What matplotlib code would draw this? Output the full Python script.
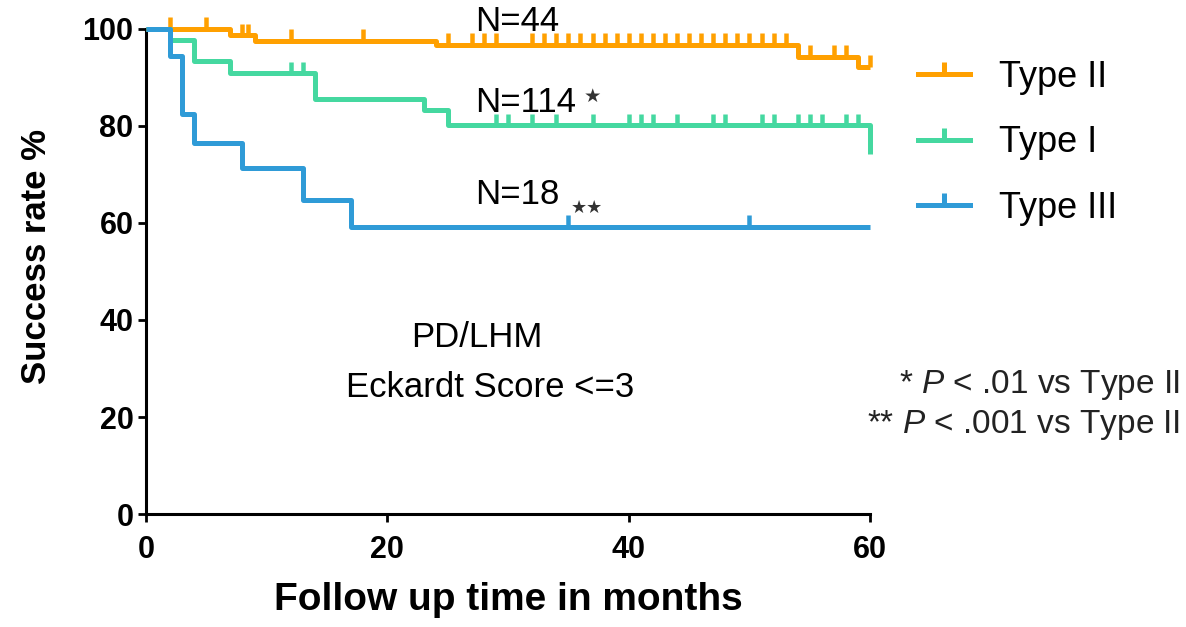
import matplotlib
matplotlib.use("Agg")
import matplotlib.pyplot as plt
from matplotlib.lines import Line2D
from matplotlib.path import Path
import numpy as np

plt.rcParams['font.family'] = ['Liberation Sans', 'DejaVu Sans']
plt.rcParams['mathtext.fontset'] = 'custom'
plt.rcParams['mathtext.it'] = 'Liberation Sans:italic'
plt.rcParams['mathtext.rm'] = 'Liberation Sans'

# Kaplan-Meier steps (months, success %)
t_type2 = [0, 7, 9, 24, 54, 59, 60]
s_type2 = [100, 98.6, 97.4, 96.6, 94.2, 92.1, 92.1]
c_type2 = [2, 5, 8, 8.5, 12, 18, 25, 27, 28, 29,
           32, 33, 34, 35, 36, 37, 38, 39, 40, 41, 42, 43, 44, 45,
           46, 47, 48, 49, 50, 51, 52, 53, 55, 57, 58, 60]

t_type1 = [0, 2, 4, 7, 14, 23, 25, 60]
s_type1 = [100, 97.6, 93.4, 90.8, 85.4, 83.2, 80.1, 74.1]
c_type1 = [12, 13, 29, 30, 32, 34, 37, 40, 41, 42, 44, 47, 48,
           51, 52, 54, 55, 56, 58, 59]

t_type3 = [0, 2, 3, 4, 8, 13, 17, 60]
s_type3 = [100, 94.4, 82.4, 76.4, 71.3, 64.7, 59.2, 59.2]
c_type3 = [35, 50]

labels = ['Type II', 'Type I', 'Type III']
colors = ['#FFA000', '#45D8A0', '#2F9BD7']

lw = 3.6
tick_up = 2.4


def value_at(ts, ss, x):
    i = np.searchsorted(ts, x, side='right') - 1
    return ss[max(i, 0)]


fig = plt.figure(figsize=(11.86, 6.27), dpi=100)
ax = fig.add_axes([0.123, 0.180, 0.6107, 0.7745])

series = [(t_type2, s_type2, c_type2), (t_type1, s_type1, c_type1),
          (t_type3, s_type3, c_type3)]
for (ts, ss, cs), col, z in zip(series, colors, [3, 4, 5]):
    ax.step(ts, ss, where='post', color=col, lw=lw, zorder=z,
            solid_joinstyle='round', solid_capstyle='butt', clip_on=False)
    ys = [value_at(ts, ss, c) for c in cs]
    ax.vlines(cs, ys, [y + tick_up for y in ys], color=col, lw=lw * 0.9,
              zorder=z, clip_on=False)

ax.set_xlim(0, 60)
ax.set_ylim(0, 100)
ax.set_xticks([0, 20, 40, 60])
ax.set_yticks([0, 20, 40, 60, 80, 100])
for s in ['top', 'right']:
    ax.spines[s].set_visible(False)
for s in ['left', 'bottom']:
    ax.spines[s].set_linewidth(2.2)
ax.tick_params(direction='out', length=6, width=2, labelsize=22)
ax.tick_params(axis='x', pad=9)
ax.tick_params(axis='y', pad=3)
for lab in ax.get_xticklabels() + ax.get_yticklabels():
    lab.set_fontweight('bold')
ax.set_xlabel('Follow up time in months', fontsize=28, fontweight='bold', labelpad=12)
ax.set_ylabel('Success rate %', fontsize=25, fontweight='bold')
ax.yaxis.set_label_coords(-0.128, 0.53)

# group sizes and significance marks
ax.text(27.3, 101.4, 'N=44', fontsize=25, va='center', ha='left')
ax.text(27.3, 84.7, 'N=114', fontsize=25, va='center', ha='left')
ax.text(36.3, 85.8, '★', fontsize=14, color='#333333', va='center', ha='left')
ax.text(35.2, 63.0, '★★', fontsize=13, color='#333333', va='center', ha='left')
ax.text(27.3, 65.8, 'N=18', fontsize=25, va='center', ha='left')

ax.text(27.4, 36.3, 'PD/LHM', fontsize=25, ha='center', va='center')
ax.text(28.5, 26.0, 'Eckardt Score <=3', fontsize=25, ha='center', va='center')

fig.text(0.995, 0.386, '* $P$ < .01 vs Type II', fontsize=24, ha='right',
         va='center', color='#222222')
fig.text(0.995, 0.322, '** $P$ < .001 vs Type II', fontsize=24, ha='right',
         va='center', color='#222222')

# legend with the little censor tick in the middle of each line
up_tick = Path([(0, 0), (0, 1)], [Path.MOVETO, Path.LINETO])
handles = [Line2D([], [], color=c, lw=lw, marker=up_tick, markersize=18,
                  markeredgewidth=lw, markeredgecolor=c) for c in colors]
fig.legend(handles, labels, loc='upper left', bbox_to_anchor=(0.774, 0.905),
           frameon=False, fontsize=26, handlelength=1.45, handletextpad=0.8,
           labelspacing=0.85, numpoints=1, borderpad=0, borderaxespad=0)

fig.savefig('out.png', dpi=100)
